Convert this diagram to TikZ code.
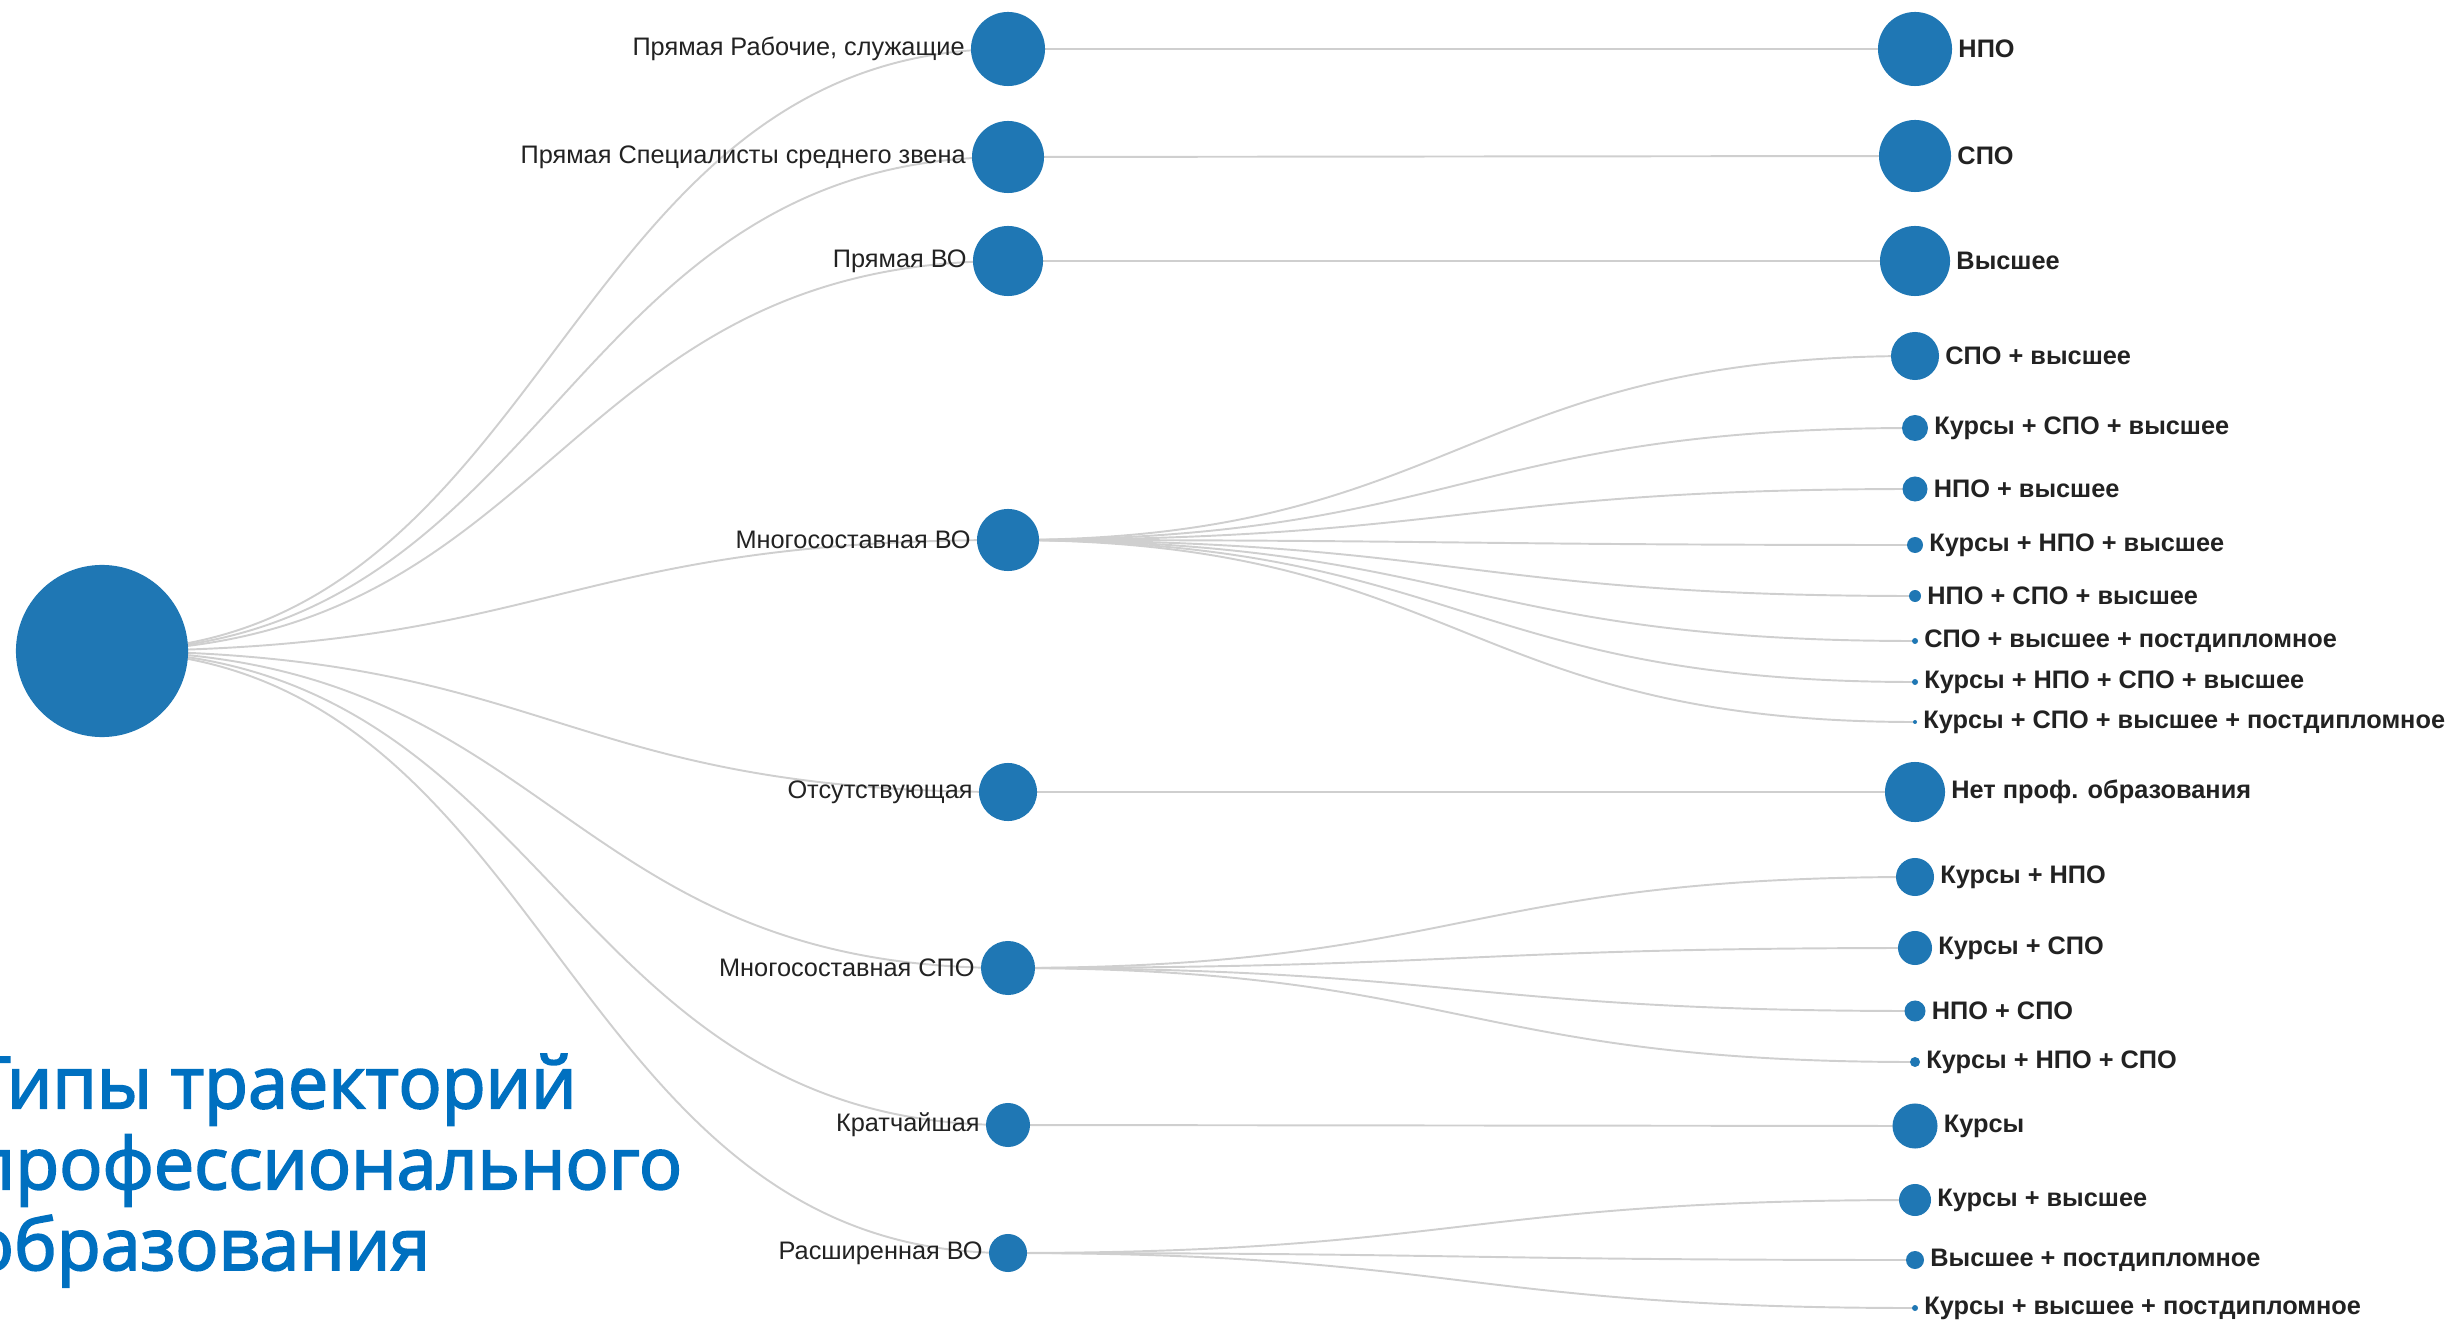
\documentclass[tikz,border=0pt]{standalone}
\usepackage{fontspec}
\setsansfont{Liberation Sans}
\newfontfamily\headfont{Open Sans}[FakeBold=2.5]
\usetikzlibrary{backgrounds}
\definecolor{sea}{HTML}{1F77B4}
\definecolor{head}{HTML}{0070C0}
\definecolor{wire}{HTML}{CFCFCF}
\definecolor{txt}{HTML}{222222}

\begin{document}
\begin{tikzpicture}[x=0.01cm, y=-0.01cm,
  bub/.style={circle, fill=sea, inner sep=0pt, minimum size={#1*0.02cm}},
  ml/.style={font=\sffamily\fontsize{7.2pt}{8pt}\selectfont, text=txt, inner sep=0pt},
  rl/.style={font=\sffamily\bfseries\fontsize{7.2pt}{8pt}\selectfont, text=txt, inner sep=0pt},
  lnk/.style={draw=wire, line width=0.55pt},
  label distance=0.05cm
]
  \useasboundingbox (0,0) rectangle (2455,1322);
  \clip (0,0) rectangle (2455,1322);

  \node[bub=86] (root) at (102,651) {};

  % second level
  \node[bub=37, label={[ml]left:Прямая Рабочие, служащие}] (pr) at (1008,49) {};
  \node[bub=36, label={[ml]left:Прямая Специалисты среднего звена}] (ps) at (1008,157) {};
  \node[bub=35, label={[ml]left:Прямая ВО}] (pv) at (1008,261) {};
  \node[bub=31, label={[ml]left:Многосоставная ВО}] (mv) at (1008,540) {};
  \node[bub=29, label={[ml]left:Отсутствующая}] (ot) at (1008,792) {};
  \node[bub=27, label={[ml]left:Многосоставная СПО}] (ms) at (1008,968) {};
  \node[bub=22, label={[ml]left:Кратчайшая}] (kr) at (1008,1125) {};
  \node[bub=19, label={[ml]left:Расширенная ВО}] (rv) at (1008,1253) {};

  % leaves
  \node[bub=37, label={[rl]right:НПО}] (npo) at (1915,49) {};
  \node[bub=36, label={[rl]right:СПО}] (spo) at (1915,156) {};
  \node[bub=35, label={[rl]right:Высшее}] (vys) at (1915,261) {};
  \node[bub=24, label={[rl]right:СПО + высшее}] (sv) at (1915,356) {};
  \node[bub=13, label={[rl]right:Курсы + СПО + высшее}] (ksv) at (1915,428) {};
  \node[bub=12.5, label={[rl]right:НПО + высшее}] (nv) at (1915,489) {};
  \node[bub=8, label={[rl]right:Курсы + НПО + высшее}] (knv) at (1915,545) {};
  \node[bub=6, label={[rl]right:НПО + СПО + высшее}] (nsv) at (1915,596) {};
  \node[bub=3, label={[rl]right:СПО + высшее + постдипломное}] (svp) at (1915,641) {};
  \node[bub=3, label={[rl]right:Курсы + НПО + СПО + высшее}] (knsv) at (1915,682) {};
  \node[bub=2, label={[rl]right:Курсы + СПО + высшее + постдипломное}] (ksvp) at (1915,722) {};
  \node[bub=30, label={[rl]right:Нет проф. образования}] (net) at (1915,792) {};
  \node[bub=19, label={[rl]right:Курсы + НПО}] (kn) at (1915,877) {};
  \node[bub=17, label={[rl]right:Курсы + СПО}] (ks) at (1915,948) {};
  \node[bub=10.5, label={[rl]right:НПО + СПО}] (ns) at (1915,1011) {};
  \node[bub=5, label={[rl]right:Курсы + НПО + СПО}] (kns) at (1915,1062) {};
  \node[bub=22.5, label={[rl]right:Курсы}] (kur) at (1915,1126) {};
  \node[bub=16, label={[rl]right:Курсы + высшее}] (kv) at (1915,1200) {};
  \node[bub=9, label={[rl]right:Высшее + постдипломное}] (vp) at (1915,1260) {};
  \node[bub=3, label={[rl]right:Курсы + высшее + постдипломное}] (kvp) at (1915,1308) {};

  \node[anchor=base west, align=left, inner sep=0pt, text=head,
        font=\headfont\fontsize{20.4pt}{23pt}\selectfont] (title) at (-30,1270)
        {Типы траекторий\\профессионального\\образования};

  \begin{scope}[on background layer]
    \foreach \a/\b in {root/pr, root/ps, root/pv, root/mv, root/ot, root/ms, root/kr, root/rv,
                       pr/npo, ps/spo, pv/vys, mv/sv, mv/ksv, mv/nv, mv/knv, mv/nsv, mv/svp,
                       mv/knsv, mv/ksvp, ot/net, ms/kn, ms/ks, ms/ns, ms/kns, kr/kur,
                       rv/kv, rv/vp, rv/kvp}
      \draw[lnk] (\a.center) .. controls +(453,0) and +(-453,0) .. (\b.center);
  \end{scope}
\end{tikzpicture}
\end{document}
